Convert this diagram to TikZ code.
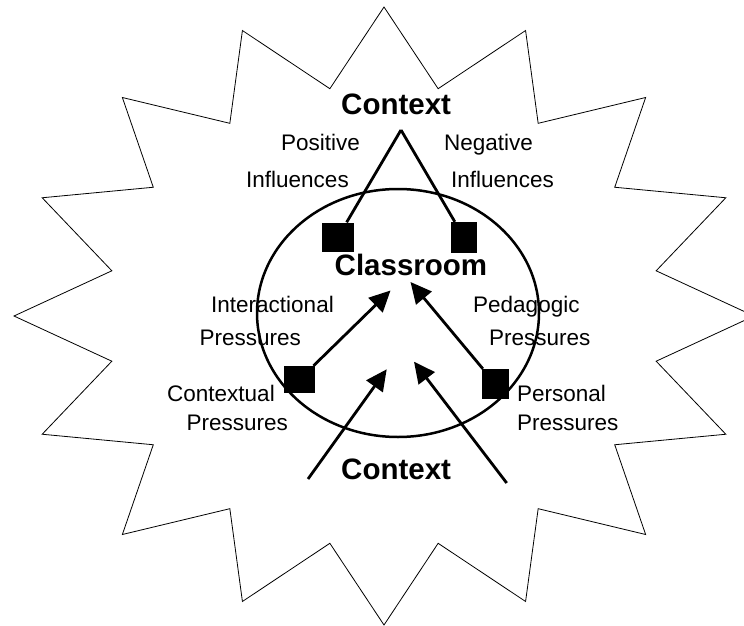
\documentclass[tikz,border=0pt]{standalone}
\usepackage{fontspec}
\setmainfont{Liberation Sans}
\usetikzlibrary{arrows.meta}

\begin{document}
\begin{tikzpicture}%
        [x = 1pt, y = -1pt,
         label/.style = {anchor = base west, inner sep = 0pt, font = \fontsize{22.5}{27}\selectfont},
         title/.style = {anchor = base west, inner sep = 0pt, font = \fontsize{29.5}{35}\selectfont\bfseries},
         sq/.style = {fill = black, inner sep = 0pt},
         pline/.style = {line width = 2.8pt},
         tip/.style = {-{Triangle[length = 21pt, width = 20pt]}}]
        \useasboundingbox (0,0) rectangle (744,626);

        % the star round the whole scene
        \draw [line width = 0.8pt] plot [samples at = {0,1,...,31}]
              ({384 + 370*(1 - 0.25*mod(\x,2))*cos(90 + 11.25*\x)},
               {316 - 309*(1 - 0.25*mod(\x,2))*sin(90 + 11.25*\x)}) -- cycle;

        \draw [line width = 2.5pt] (398,313) ellipse [x radius = 141, y radius = 124];

        \coordinate (apex) at (401,130);
        \coordinate (ia) at (390.5,290.5);
        \coordinate (pa) at (410.5,282);
        \coordinate (ca) at (386.7,369.3);
        \coordinate (pe) at (414,361.7);
        \coordinate (cl) at (308,479);
        \coordinate (cr) at (506.7,483);

        \node [sq, minimum width = 32pt, minimum height = 29pt] (pos) at (338,237) {};
        \node [sq, minimum width = 26pt, minimum height = 31pt] (neg) at (464,237.5) {};
        \node [sq, minimum width = 31pt, minimum height = 27pt] (ctx) at (299.5,379.5) {};
        \node [sq, minimum width = 27pt, minimum height = 30pt] (per) at (495.5,384) {};

        \draw [pline] (apex) -- (pos);
        \draw [pline] (apex) -- (neg);
        \draw [pline, tip] (ctx) -- (ia);
        \draw [pline, tip] (per) -- (pa);
        \draw [pline, tip] (cl) -- (ca);
        \draw [pline, tip] (cr) -- (pe);

        \node [title] (ctxtop) at (341,114) {Context};
        \node [title] (room) at (334.5,275.7) {Classroom};
        \node [title] (ctxbot) at (341,479.3) {Context};

        \node [label] (pos1) at (281,150.7) {Positive};
        \node [label] (pos2) at (246,187) {Influences};
        \node [label] (neg1) at (444,150.7) {Negative};
        \node [label] (neg2) at (451,187) {Influences};
        \node [label] (int1) at (211,312.7) {Interactional};
        \node [label] (int2) at (199.5,345) {Pressures};
        \node [label] (ped1) at (473,312.7) {Pedagogic};
        \node [label] (ped2) at (489,345) {Pressures};
        \node [label] (ctx1) at (167,401.7) {Contextual};
        \node [label] (ctx2) at (186.5,430) {Pressures};
        \node [label] (per1) at (517,401.7) {Personal};
        \node [label] (per2) at (517,430) {Pressures};
    \end{tikzpicture}
\end{document}
